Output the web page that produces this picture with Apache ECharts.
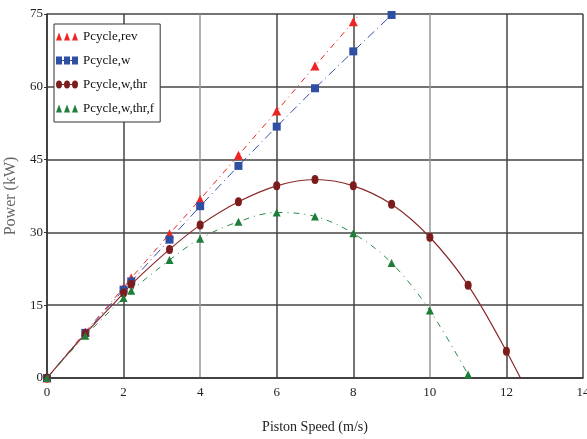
<!DOCTYPE html>
<html>
<head>
<meta charset="utf-8">
<script src="https://cdn.jsdelivr.net/npm/echarts@6/dist/echarts.min.js"></script>
<style>
  html, body { margin: 0; padding: 0; background: #fff; }
  #chart { width: 587px; height: 439px; }
</style>
</head>
<body>
<div id="chart"></div>
<script>
// piston speed (m/s) at each marker
var speeds = [0, 1, 2, 2.2, 3.2, 4, 5, 6, 7, 8, 9, 10, 11, 12, 13];

// power (kW)
var pRev    = [0, 9.5, 18.6, 20.6, 29.7, 36.8, 45.9, 55.0, 64.3, 73.4, 82.5, null, null, null, null];
var pW      = [0, 9.3, 18.2, 19.9, 28.5, 35.4, 43.7, 51.8, 59.7, 67.3, 74.8, null, null, null, null];
var pWThr   = [0, 9.1, 17.5, 19.3, 26.5, 31.5, 36.3, 39.6, 40.9, 39.6, 35.8, 29.0, 19.1, 5.5, -10];
var pWThrF  = [0, 8.7, 16.5, 18.0, 24.3, 28.7, 32.2, 34.1, 33.3, 29.8, 23.7, 13.9, 0.7, null, null];

var xTicks = [0, 2, 4, 6, 8, 10, 12, 14];
var yTicks = [0, 15, 30, 45, 60, 75];

var seriesNames = ['Pcycle,rev', 'Pcycle,w', 'Pcycle,w,thr', 'Pcycle,w,thr,f'];

function pairs(vals) {
    var out = [];
    for (var i = 0; i < speeds.length; i++) {
        if (vals[i] !== null) out.push([speeds[i], vals[i]]);
    }
    return out;
}

var font = '"Liberation Serif", "DejaVu Serif", serif';

var triIcon = 'path://M0,8L3,0L6,8Z M8,8L11,0L14,8Z M16,8L19,0L22,8Z';
var sqIcon = 'path://M0,0h6v8h-6z M6,3.5h2v1h-2z M8,0h6v8h-6z M14,3.5h2v1h-2z M16,0h6v8h-6z';
var dotIcon = 'path://M0,4a3,4 0 1,0 6,0a3,4 0 1,0 -6,0z M6,3.5h2v1h-2z M8,4a3,4 0 1,0 6,0a3,4 0 1,0 -6,0z M14,3.5h2v1h-2z M16,4a3,4 0 1,0 6,0a3,4 0 1,0 -6,0z';

var chart = echarts.init(document.getElementById('chart'));

chart.setOption({
    animation: false,
    backgroundColor: '#fff',
    grid: { left: 47, right: 4, top: 14, bottom: 61, outerBoundsMode: 'none' },
    legend: {
        orient: 'vertical',
        left: 54,
        top: 24,
        padding: [6, 6, 7, 2],
        itemGap: 11,
        itemWidth: 22,
        itemHeight: 8,
        backgroundColor: '#fff',
        borderColor: '#333',
        borderWidth: 1,
        textStyle: { fontFamily: font, fontSize: 13, color: '#111' },
        data: [
            { name: seriesNames[0], icon: triIcon },
            { name: seriesNames[1], icon: sqIcon },
            { name: seriesNames[2], icon: dotIcon },
            { name: seriesNames[3], icon: triIcon }
        ]
    },
    xAxis: {
        type: 'value',
        min: 0,
        max: 14,
        interval: 2,
        name: 'Piston Speed (m/s)',
        nameLocation: 'middle',
        nameGap: 42,
        nameTextStyle: { fontFamily: font, fontSize: 14, color: '#222' },
        axisLine: { show: true, lineStyle: { color: '#333', width: 1.5 } },
        axisTick: { show: false },
        axisLabel: {
            fontFamily: font, fontSize: 13, color: '#222', margin: 8,
            formatter: function (v) { return xTicks.indexOf(v) >= 0 ? String(v) : ''; }
        },
        splitLine: {
            show: true,
            lineStyle: { color: ['#444', '#444', '#999', '#444', '#444', '#999', '#444', '#444'], width: 1.5 }
        }
    },
    yAxis: {
        type: 'value',
        min: 0,
        max: 75,
        interval: 15,
        name: 'Power (kW)',
        nameLocation: 'middle',
        nameGap: 28,
        nameRotate: 90,
        nameTextStyle: { fontFamily: font, fontSize: 16, color: '#666' },
        axisLine: { show: true, lineStyle: { color: '#333', width: 1.5 } },
        axisTick: { show: true, length: 3, lineStyle: { color: '#333' } },
        axisLabel: {
            fontFamily: font, fontSize: 13, color: '#222', margin: 4,
            formatter: function (v) { return yTicks.indexOf(v) >= 0 ? String(v) : ''; }
        },
        splitLine: { show: true, lineStyle: { color: '#444', width: 1.5 } }
    },
    series: [
        {
            name: seriesNames[0],
            type: 'line',
            data: pairs(pRev),
            clip: true,
            symbol: 'triangle',
            symbolSize: 9,
            color: '#ee2424',
            lineStyle: { width: 1, type: [6, 4, 1, 4], color: '#ee2424' },
            z: 4
        },
        {
            name: seriesNames[1],
            type: 'line',
            data: pairs(pW),
            clip: true,
            symbol: 'rect',
            symbolSize: 8,
            color: '#2f4fa3',
            lineStyle: { width: 1, type: [9, 4, 1, 4], color: '#2f4fa3' },
            z: 5
        },
        {
            name: seriesNames[2],
            type: 'line',
            data: pairs(pWThr),
            clip: true,
            smooth: 0.35,
            symbol: 'circle',
            symbolSize: [7, 9],
            color: '#7d1c1c',
            lineStyle: { width: 1.2, color: '#8a2a2a' },
            z: 6
        },
        {
            name: seriesNames[3],
            type: 'line',
            data: pairs(pWThrF),
            clip: true,
            smooth: 0.35,
            symbol: 'triangle',
            symbolSize: 8,
            color: '#1f7d3a',
            lineStyle: { width: 1, type: [6, 5, 1, 5], color: '#2a8a45' },
            z: 7
        }
    ]
});
</script>
</body>
</html>
